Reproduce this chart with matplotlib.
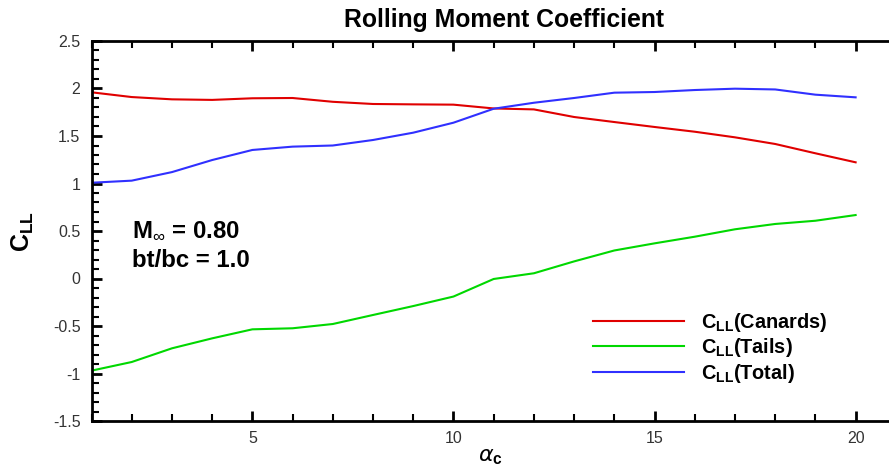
import numpy as np
import matplotlib
matplotlib.use('Agg')
import matplotlib.pyplot as plt
from matplotlib.ticker import MultipleLocator

plt.rcParams['font.family'] = ['Liberation Sans', 'DejaVu Sans']
plt.rcParams['mathtext.fontset'] = 'custom'
plt.rcParams['mathtext.rm'] = 'Liberation Sans'
plt.rcParams['mathtext.bf'] = 'Liberation Sans:bold'

# angulo de ataque do canard
alpha = [1, 2, 3, 4, 5, 6, 7, 8, 9, 10, 11, 12, 13, 14, 15, 16, 17, 18, 19, 20]

# coeficientes de momento de rolamento
cll_canards = [1.96, 1.91, 1.886, 1.88, 1.897, 1.90, 1.86, 1.837, 1.833, 1.83,
               1.79, 1.78, 1.70, 1.647, 1.595, 1.545, 1.486, 1.416, 1.318, 1.223]
cll_tails = [-0.97, -0.879, -0.735, -0.63, -0.535, -0.524, -0.479, -0.384, -0.29, -0.19,
             -0.005, 0.055, 0.18, 0.295, 0.37, 0.44, 0.518, 0.574, 0.608, 0.668]
cll_total = [1.008, 1.03, 1.12, 1.247, 1.353, 1.388, 1.40, 1.458, 1.535, 1.64,
             1.787, 1.85, 1.90, 1.956, 1.963, 1.984, 1.998, 1.99, 1.935, 1.907]

fig = plt.figure(figsize=(8.89, 4.69), dpi=100)
ax = fig.add_axes([91.5 / 889, 48 / 469, 1 - 91.5 / 889, 380 / 469])

ax.plot(alpha, cll_canards, color='#e00000', lw=1.5, label=r'C$_{\mathbf{LL}}$(Canards)')
ax.plot(alpha, cll_tails, color='#00d800', lw=1.5, label=r'C$_{\mathbf{LL}}$(Tails)')
ax.plot(alpha, cll_total, color='#3030ff', lw=1.5, label=r'C$_{\mathbf{LL}}$(Total)')

ax.set_xlim(1, 20.83)
ax.set_ylim(-1.5, 2.5)
ax.xaxis.set_minor_locator(MultipleLocator(1))
ax.yaxis.set_minor_locator(MultipleLocator(0.1))
ax.set_xticks([5, 10, 15, 20])
ax.set_yticks(np.arange(-1.5, 2.51, 0.5))
ax.set_yticklabels(['-1.5', '-1', '-0.5', '0', '0.5', '1', '1.5', '2', '2.5'])

ax.spines['right'].set_visible(False)
for s in ['left', 'top', 'bottom']:
    ax.spines[s].set_linewidth(2)
ax.tick_params(which='both', direction='in', top=True, right=False, width=1.5,
               labelsize=11.5, labelcolor='#333333')
ax.tick_params(which='major', length=7, width=2)
ax.tick_params(which='minor', length=5)
ax.tick_params(axis='x', pad=7)
ax.tick_params(axis='y', pad=8)

# titulo um pouco deslocado para a direita
fig.text(504 / 889, 1 - 27 / 469, 'Rolling Moment Coefficient', fontsize=17.8,
         fontweight='bold', ha='center', va='baseline')
ax.set_ylabel(r'C$_{\mathbf{LL}}$', fontsize=18, fontweight='bold', labelpad=12)
ax.set_xlabel(r'$\alpha_{\mathbf{c}}$', fontsize=16, labelpad=0)

ax.text(2.0, 0.437, r'M$_{\infty}$ = 0.80', fontsize=17.3, fontweight='bold')
ax.text(2.0, 0.121, 'bt/bc = 1.0', fontsize=17.3, fontweight='bold')

ax.legend(loc='upper left', bbox_to_anchor=(593 / 889, 1 - 311 / 469),
          bbox_transform=fig.transFigure, frameon=False, borderpad=0, borderaxespad=0,
          prop={'size': 14.3, 'weight': 'bold'}, handlelength=4.6, handletextpad=0.85,
          labelspacing=0.12)

fig.savefig('out.png', dpi=100)
